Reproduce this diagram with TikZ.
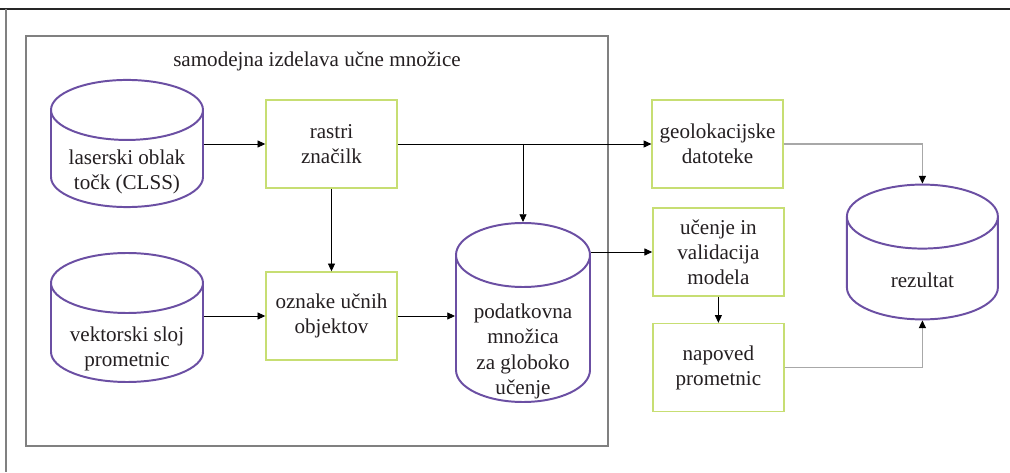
\documentclass[tikz,border=0pt]{standalone}
\usepackage{fontspec}
\setmainfont{Liberation Serif}
\usepackage{tikz}
\definecolor{dbpurple}{rgb}{0.42, 0.31, 0.64}
\definecolor{boxgreen}{rgb}{0.78, 0.87, 0.45}
\definecolor{framegray}{rgb}{0.50, 0.50, 0.50}
\definecolor{linegray}{rgb}{0.66, 0.66, 0.66}
\definecolor{textgray}{rgb}{0.14, 0.12, 0.13}
\usetikzlibrary{shapes.geometric,arrows.meta}
\tikzset{
  db/.style={draw=dbpurple, line width=1.4pt, cylinder, shape border rotate=90, aspect=1, inner sep=0.75cm, anchor=shape center},
  dbtext/.style={align=center, text=textgray, font=\fontsize{15}{17.8}\selectfont},
  stepbox/.style={draw=boxgreen, line width=1pt, rectangle, minimum width=3.275cm, minimum height=2.2cm, align=center, text=textgray, font=\fontsize{15}{17.8}\selectfont},
  arr/.style={line width=0.6pt, -{Triangle[length=5.5pt,width=5pt]}},
  grayarr/.style={draw=linegray, line width=0.8pt, -{Triangle[length=5.5pt,width=5pt,color=black]}}
}

\begin{document}
\begin{tikzpicture}
        \useasboundingbox (0,0) rectangle (25.25,11.8);
        
        % frames
        \draw[line width=0.9pt, black!85] (0,11.575) -- (25.25,11.575) ;
        \draw[line width=0.9pt, framegray] (0.15,11.575) -- (0.15,0) ;
        \draw[line width=0.9pt, framegray] (0.65,0.65) rectangle (15.2,10.9) ;
        \node[dbtext] (title) at (7.925,10.275) {samodejna izdelava učne množice} ;
        
        \node[db, minimum width=3.8cm, minimum height=3.075cm,
              label={[dbtext, yshift=-0.025cm]center:laserski oblak\\točk (CLSS)}] (c1) at (3.175,8.2125) {} ;
        \node[db, minimum width=3.8cm, minimum height=3.225cm,
              label={[dbtext, yshift=-0.1cm]center:vektorski sloj\\prometnic}] (c2) at (3.175,3.8625) {} ;
        \node[db, inner sep=0.8cm, minimum width=3.35cm, minimum height=4.475cm,
              label={[dbtext, yshift=-0.22cm]center:podatkovna\\množica\\za globoko\\učenje}] (c3) at (13.075,3.9875) {} ;
        \node[db, inner sep=0.8cm, minimum width=3.775cm, minimum height=3.25cm,
              label={[dbtext, yshift=0.025cm]center:rezultat}] (c4) at (23.06,5.5) {} ;
        
        \node[stepbox] (b1) at (8.2875,8.2) {rastri\\značilk} ;
        \node[stepbox] (b2) at (8.2875,3.9) {oznake učnih\\objektov} ;
        \node[stepbox] (b3) at (17.94,8.2) {geolokacijske\\datoteke} ;
        \node[stepbox] (b4) at (17.96,5.5) {učenje in\\validacija\\modela} ;
        \node[stepbox] (b5) at (17.96,2.6125) {napoved\\prometnic} ;
        
        \draw[arr] (c1.east |- b1.west) -- (b1.west) ;
        \draw[arr] (c2.east |- b2.west) -- (b2.west) ;
        \draw[arr] (b1.east) -- (b3.west) ;
        \draw[arr] (b1.east -| c3.north) -- (c3.north) ;
        \draw[arr] (b1.south) -- (b2.north) ;
        \draw[arr] (b2.east) -- (c3.west |- b2.east) ;
        \draw[arr] (c3.east |- b4.west) -- (b4.west) ;
        \draw[arr] (b4.south) -- (b5.north) ;
        \draw[grayarr] (b3.east) -| (c4.north) ;
        \draw[grayarr] (b5.east) -| (c4.south) ;
        
    \end{tikzpicture}
\end{document}
